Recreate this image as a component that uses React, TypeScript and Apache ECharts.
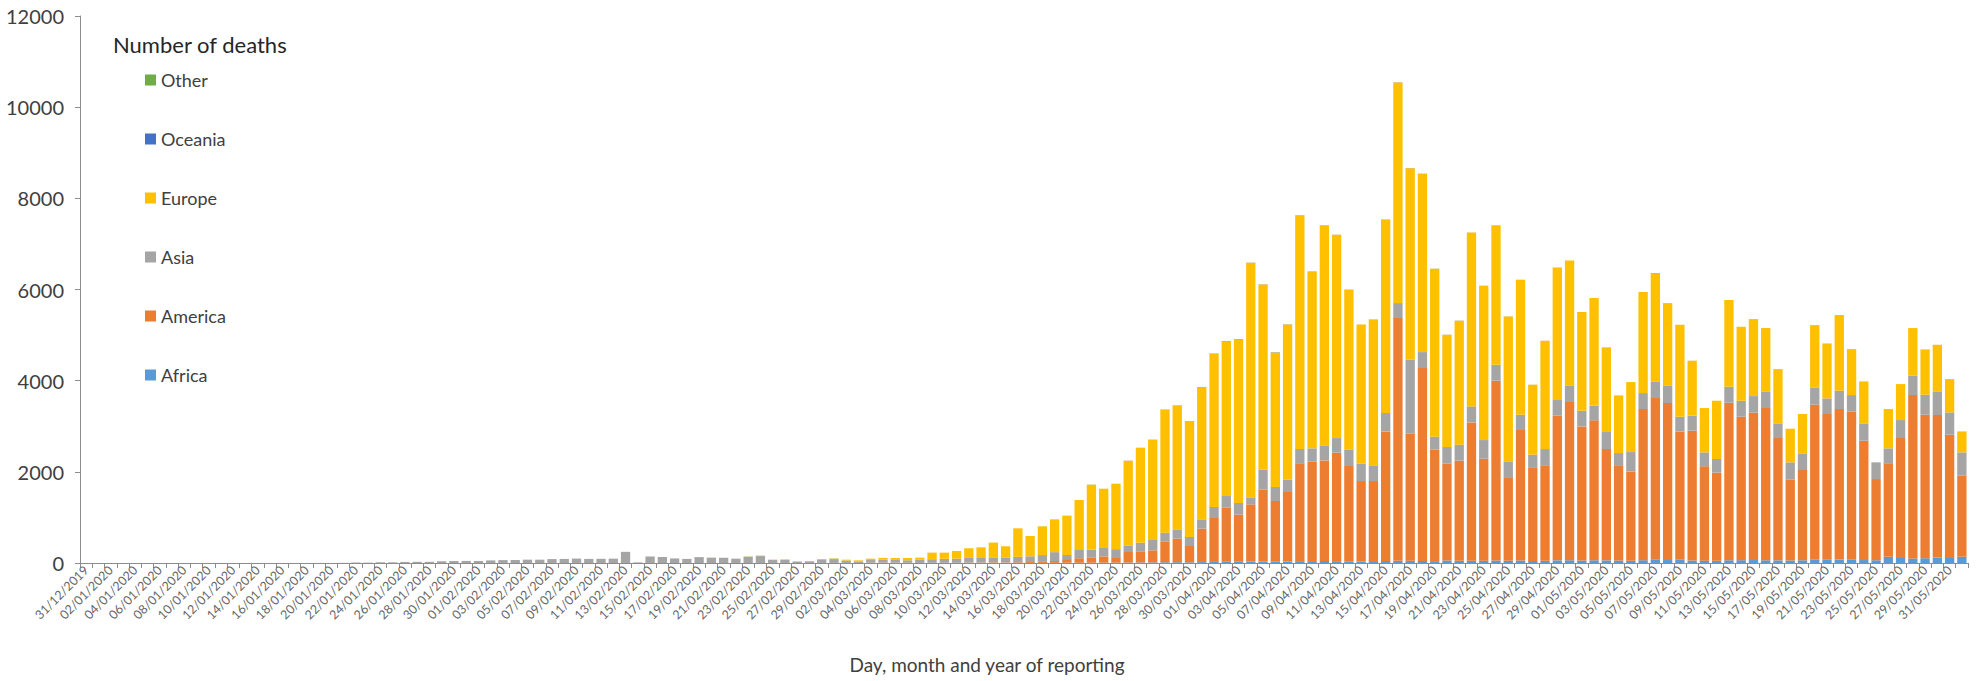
import { useEffect, useRef } from 'react';
import * as echarts from 'echarts';

// one bar per reporting day, 31/12/2019 .. 01/06/2020 (154 days)
const firstDay = new Date(Date.UTC(2019, 11, 31));
const dayCount = 154;
const pad = (n: number) => (n < 10 ? '0' + n : '' + n);
const dates: string[] = [];
for (let i = 0; i < dayCount; i++) {
  const d = new Date(firstDay.getTime() + i * 86400000);
  dates.push(`${pad(d.getUTCDate())}/${pad(d.getUTCMonth() + 1)}/${d.getUTCFullYear()}`);
}

const yTicks = [0, 2000, 4000, 6000, 8000, 10000, 12000];

// daily deaths by region (10 days per row)
const africa = [
  0, 0, 0, 0, 0, 0, 0, 0, 0, 0,
  0, 0, 0, 0, 0, 0, 0, 0, 0, 0,
  0, 0, 0, 0, 0, 0, 0, 0, 0, 0,
  0, 0, 0, 0, 0, 0, 0, 0, 0, 0,
  0, 0, 0, 0, 0, 0, 0, 0, 0, 0,
  0, 0, 0, 0, 0, 0, 0, 0, 0, 0,
  0, 0, 0, 0, 0, 0, 0, 0, 0, 1,
  0, 1, 1, 0, 2, 2, 2, 2, 2, 3,
  5, 5, 6, 7, 8, 10, 12, 14, 16, 18,
  15, 20, 24, 26, 28, 30, 32, 30, 33, 40,
  42, 45, 40, 38, 36, 42, 45, 48, 50, 46,
  40, 55, 48, 50, 52, 55, 50, 55, 45, 50,
  58, 60, 55, 60, 58, 55, 50, 62, 73, 65,
  70, 55, 52, 50, 60, 62, 65, 60, 58, 55,
  60, 70, 72, 75, 70, 65, 60, 135, 110, 100,
  105, 120, 130, 138,
];

const america = [
  0, 0, 0, 0, 0, 0, 0, 0, 0, 0,
  0, 0, 0, 0, 0, 0, 0, 0, 0, 0,
  0, 0, 0, 0, 0, 0, 0, 0, 0, 0,
  0, 0, 0, 0, 0, 0, 0, 0, 0, 0,
  0, 0, 0, 0, 0, 0, 0, 0, 0, 0,
  0, 0, 0, 0, 0, 0, 0, 0, 0, 0,
  1, 1, 2, 1, 8, 10, 6, 5, 2, 2,
  4, 3, 10, 8, 13, 10, 15, 20, 22, 40,
  80, 100, 118, 138, 120, 231, 244, 264, 459, 516,
  358, 733, 963, 1187, 1032, 1257, 1576, 1330, 1524, 2146,
  2180, 2206, 2380, 2089, 1762, 1756, 2842, 5325, 2786, 4230,
  2445, 2123, 2196, 3035, 2236, 3944, 1814, 2862, 2053, 2092,
  3173, 3471, 2942, 3069, 2442, 2087, 1960, 3315, 3545, 3444,
  2817, 2847, 2068, 1931, 3456, 3147, 3232, 3339, 2683, 1773,
  1979, 3402, 3196, 3302, 3249, 2618, 1782, 2051, 2631, 3584,
  3148, 3126, 2684, 1777,
];

const asia = [
  0, 0, 0, 0, 0, 0, 0, 0, 0, 0,
  0, 1, 0, 0, 0, 0, 0, 1, 0, 1,
  0, 3, 11, 8, 16, 15, 24, 26, 26, 38,
  43, 46, 45, 57, 64, 66, 73, 73, 86, 89,
  97, 90, 92, 95, 245, 13, 143, 132, 100, 90,
  128, 115, 115, 95, 140, 152, 68, 70, 30, 37,
  70, 85, 53, 35, 57, 65, 62, 55, 75, 80,
  88, 92, 100, 102, 108, 110, 118, 125, 150, 195,
  90, 197, 168, 185, 176, 146, 190, 226, 190, 204,
  197, 205, 241, 256, 256, 153, 439, 307, 271, 314,
  293, 329, 321, 366, 380, 344, 403, 329, 1623, 351,
  285, 366, 351, 351, 409, 350, 366, 336, 278, 358,
  344, 365, 344, 321, 373, 270, 424, 351, 366, 387,
  322, 329, 307, 300, 351, 351, 365, 366, 322, 380,
  366, 380, 343, 402, 365, 380, 366, 329, 395, 424,
  439, 519, 490, 512,
];

const europe = [
  0, 0, 0, 0, 0, 0, 0, 0, 0, 0,
  0, 0, 0, 0, 0, 0, 0, 0, 0, 0,
  0, 0, 0, 0, 0, 0, 0, 0, 0, 0,
  0, 0, 0, 0, 0, 0, 0, 0, 0, 0,
  0, 0, 0, 0, 0, 0, 1, 0, 0, 0,
  0, 0, 0, 0, 3, 2, 7, 4, 7, 7,
  11, 12, 18, 22, 30, 35, 42, 50, 40, 145,
  135, 168, 212, 234, 325, 245, 625, 445, 630, 720,
  863, 1080, 1426, 1300, 1436, 1857, 2083, 2208, 2705, 2720,
  2537, 2902, 3363, 3399, 3596, 5146, 4064, 2953, 3406, 5124,
  3881, 4825, 4459, 3501, 3056, 3194, 4247, 4838, 4203, 3911,
  3685, 2463, 2719, 3816, 3385, 3063, 3179, 2961, 1535, 2376,
  2909, 2741, 2163, 2361, 1857, 1265, 1535, 2215, 2376, 1806,
  2018, 1206, 972, 1279, 1901, 1623, 1689, 1389, 1191, 738,
  863, 1367, 1206, 1660, 1009, 921, 0, 862, 789, 1046,
  994, 1023, 731, 460,
];

const oceania = [
  0, 0, 0, 0, 0, 0, 0, 0, 0, 0,
  0, 0, 0, 0, 0, 0, 0, 0, 0, 0,
  0, 0, 0, 0, 0, 0, 0, 0, 0, 0,
  0, 0, 0, 0, 0, 0, 0, 0, 0, 0,
  0, 0, 0, 0, 0, 0, 0, 0, 0, 0,
  0, 0, 0, 0, 0, 0, 0, 0, 0, 0,
  0, 1, 0, 0, 0, 0, 0, 0, 0, 0,
  0, 0, 0, 0, 0, 0, 0, 0, 1, 0,
  1, 0, 2, 0, 0, 3, 1, 0, 2, 1,
  4, 2, 5, 3, 2, 3, 4, 6, 4, 5,
  3, 4, 2, 3, 1, 5, 2, 4, 3, 3,
  2, 2, 3, 1, 2, 1, 2, 1, 1, 1,
  1, 0, 1, 0, 2, 0, 0, 1, 1, 0,
  0, 1, 0, 0, 0, 0, 0, 1, 0, 0,
  0, 0, 0, 0, 0, 0, 0, 0, 0, 0,
  0, 0, 0, 0,
];

const other = [
  0, 0, 0, 0, 0, 0, 0, 0, 0, 0,
  0, 0, 0, 0, 0, 0, 0, 0, 0, 0,
  0, 0, 0, 0, 0, 0, 0, 0, 0, 0,
  0, 0, 0, 0, 0, 0, 0, 0, 0, 0,
  0, 0, 0, 0, 0, 0, 0, 0, 0, 0,
  2, 3, 0, 0, 0, 6, 0, 4, 0, 0,
  6, 2, 0, 0, 0, 1, 0, 0, 0, 0,
  0, 0, 0, 0, 0, 0, 0, 0, 0, 0,
  0, 0, 0, 0, 0, 0, 0, 0, 0, 0,
  0, 0, 0, 0, 0, 0, 0, 0, 0, 0,
  0, 0, 0, 0, 0, 0, 0, 0, 0, 0,
  0, 0, 0, 0, 0, 0, 0, 0, 0, 0,
  0, 0, 0, 0, 0, 0, 0, 0, 0, 0,
  0, 0, 0, 0, 0, 0, 0, 0, 0, 0,
  0, 0, 0, 0, 0, 0, 0, 0, 0, 0,
  0, 0, 0, 0,
];

const regions = [
  { name: 'Africa', data: africa, color: '#5B9BD5' },
  { name: 'America', data: america, color: '#ED7D31' },
  { name: 'Asia', data: asia, color: '#A5A5A5' },
  { name: 'Europe', data: europe, color: '#FFC000' },
  { name: 'Oceania', data: oceania, color: '#4472C4' },
  { name: 'Other', data: other, color: '#70AD47' },
];

const font = 'Lato, "Noto Sans", sans-serif';

export default function App() {
  const chartRef = useRef<HTMLDivElement>(null);

  useEffect(() => {
    if (!chartRef.current) return;
    const chart = echarts.init(chartRef.current, undefined, { renderer: 'svg' });

    chart.setOption({
      animation: false,
      backgroundColor: '#ffffff',
      textStyle: { fontFamily: font },
      title: {
        text: 'Number of deaths',
        left: 108,
        top: 28,
        textStyle: { fontSize: 22, fontWeight: 'normal', color: '#262626', fontFamily: font },
      },
      legend: {
        data: ['Other', 'Oceania', 'Europe', 'Asia', 'America', 'Africa'],
        orient: 'vertical',
        left: 140,
        top: 65,
        icon: 'rect',
        itemWidth: 11,
        itemHeight: 11,
        itemGap: 39,
        textStyle: { fontSize: 18, lineHeight: 20, color: '#404040', fontFamily: font },
      },
      grid: { left: 80, right: 12, top: 16, bottom: 118 },
      xAxis: {
        type: 'category',
        data: dates,
        axisLine: { lineStyle: { color: '#8c8c8c', width: 1 } },
        axisTick: { show: true, interval: 0, length: 5, lineStyle: { color: '#8c8c8c' } },
        axisLabel: {
          interval: 1,
          rotate: 45,
          fontSize: 12.5,
          color: '#666666',
          margin: 5,
          fontFamily: font,
        },
      },
      yAxis: {
        type: 'value',
        min: yTicks[0],
        max: yTicks[yTicks.length - 1],
        interval: 2000,
        axisLine: { show: true, lineStyle: { color: '#8c8c8c', width: 1 } },
        axisTick: { show: true, length: 5, lineStyle: { color: '#8c8c8c' } },
        splitLine: { show: false },
        axisLabel: {
          fontSize: 20,
          color: '#404040',
          margin: 16,
          fontFamily: font,
          formatter: (v: number) => String(v),
        },
      },
      graphic: [
        {
          type: 'text',
          x: 987,
          y: 664,
          style: {
            text: 'Day, month and year of reporting',
            fontSize: 19,
            fontFamily: font,
            fill: '#404040',
            align: 'center',
            verticalAlign: 'middle',
          },
        },
      ],
      series: regions.map((r) => ({
        name: r.name,
        type: 'bar',
        stack: 'deaths',
        barCategoryGap: '24%',
        data: r.data,
        itemStyle: { color: r.color },
      })),
    });

    return () => chart.dispose();
  }, []);

  return (
    <div style={{ position: 'fixed', left: 0, top: 0, width: 1980, height: 681, background: '#fff' }}>
      <div ref={chartRef} style={{ width: 1980, height: 681 }} />
    </div>
  );
}
